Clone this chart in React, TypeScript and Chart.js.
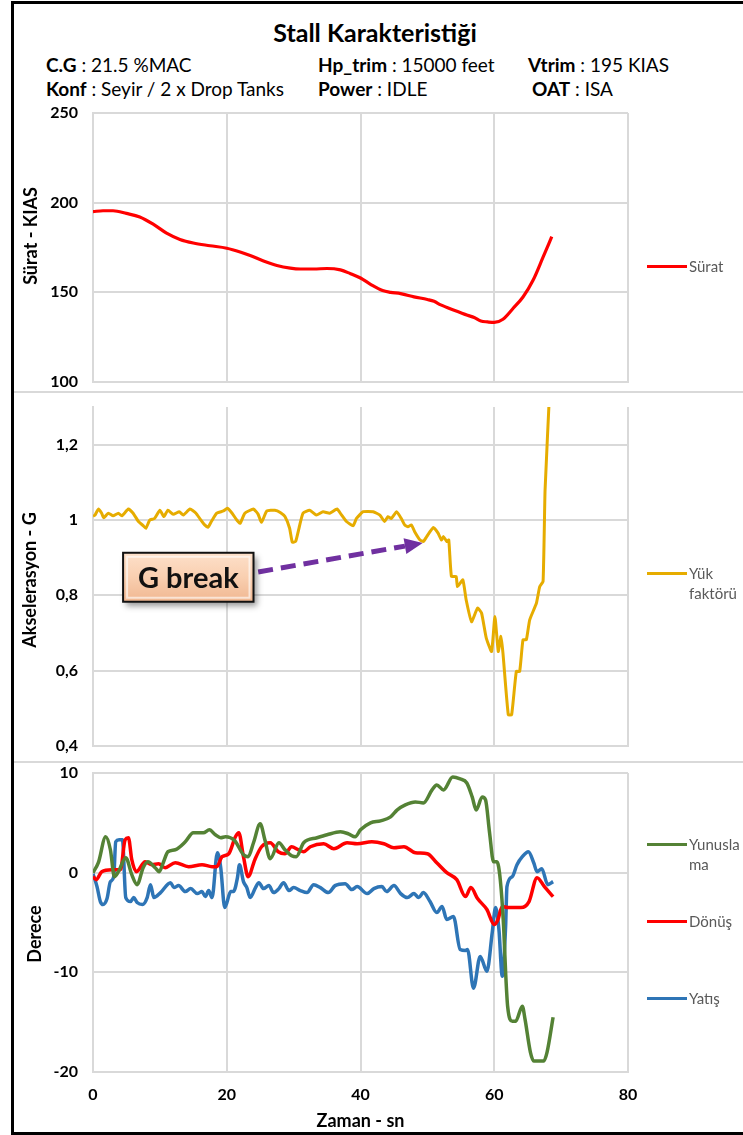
import React, { useEffect, useRef } from 'react';
import { Chart, registerables } from 'chart.js';

Chart.register(...registerables);

// ---------------- DATA ----------------
const speedT = [0, 1.5, 3, 5, 7, 9, 11, 13, 15, 17.5, 20, 22, 23.5, 25.5, 27.5, 29.5, 31, 33, 35, 37, 38.5, 40, 41.5, 43.3, 44.5, 46, 48, 50, 51, 52, 54, 56, 57, 58, 59, 60, 61.3, 62.8, 64.3, 65.8, 67.3, 68.6];
const speedV = [195, 195.5, 195.5, 194, 192, 188, 183, 179.5, 177.5, 176, 174.6, 172.5, 170.5, 167.5, 165, 163.5, 163, 163, 163.3, 162.5, 160.4, 158, 154.5, 151, 150, 149.3, 147.5, 146, 145, 143, 140, 137.2, 136, 134, 133.5, 133.2, 135, 141, 147.4, 156.7, 169.6, 181];

const loadT = [0, 0.3, 0.8, 1.3, 1.6, 2.3, 3.0, 3.8, 4.3, 5.3, 6.0, 6.8, 7.5, 7.9, 8.5, 9.2, 10.0, 10.6, 11.2, 12.0, 12.9, 13.5, 14.5, 15.4, 16.0, 16.7, 17.2, 17.7, 18.5, 19.5, 20.1, 20.8, 21.5, 22.0, 22.7, 24.0, 24.7, 25.2, 26.0, 27.2, 28.0, 28.7, 29.4, 29.8, 30.3, 30.8, 31.4, 32.4, 33.4, 34.4, 35.4, 36.5, 37.1, 37.9, 38.9, 39.4, 40.4, 41.9, 42.9, 43.6, 44.1, 44.6, 45.4, 46.1, 46.6, 47.1, 47.6, 48.1, 48.9, 49.4, 49.9, 50.9, 51.6, 52.1, 52.4, 52.9, 53.2, 53.6, 54.3, 54.5, 55.3, 55.8, 56.6, 57.5, 58.1, 58.8, 59.6, 60.1, 60.6, 61.0, 61.3, 62.1, 62.6, 63.3, 63.8, 64.3, 64.8, 65.3, 66.3, 66.8, 67.3, 67.6, 68.3];
const loadV = [1.01, 1.013, 1.029, 1.018, 1.006, 1.018, 1.011, 1.018, 1.011, 1.029, 1.018, 0.996, 0.985, 0.978, 1.0, 1.004, 1.026, 1.009, 1.026, 1.015, 1.022, 1.013, 1.029, 1.018, 1.003, 0.987, 0.981, 0.996, 1.018, 1.024, 1.031, 1.018, 1.0, 0.991, 1.018, 1.029, 1.015, 0.994, 1.024, 1.026, 1.02, 1.009, 0.978, 0.941, 0.943, 0.978, 1.018, 1.026, 1.013, 1.022, 1.018, 1.029, 1.015, 0.996, 0.985, 1.004, 1.022, 1.022, 1.013, 0.996, 1.009, 1.004, 1.022, 1.004, 0.987, 0.982, 0.987, 0.969, 0.947, 0.943, 0.956, 0.98, 0.965, 0.947, 0.956, 0.943, 0.947, 0.85, 0.85, 0.823, 0.841, 0.788, 0.73, 0.766, 0.753, 0.687, 0.651, 0.744, 0.651, 0.691, 0.647, 0.483, 0.483, 0.598, 0.598, 0.682, 0.682, 0.735, 0.779, 0.823, 0.837, 1.08, 1.35];

const pitchT = [0, 0.8, 1.9, 2.6, 3.2, 3.8, 4.9, 5.8, 6.6, 7.5, 8.2, 9.3, 9.9, 10.5, 11.2, 12.3, 13.8, 15.0, 16.5, 17.4, 18.3, 19.1, 19.8, 21.2, 22.5, 23.2, 24.0, 25.0, 25.7, 26.5, 27.8, 28.7, 29.7, 30.4, 31.5, 33.5, 35.0, 37.0, 38.2, 39.2, 40.0, 41.5, 43.0, 44.5, 45.5, 46.7, 48.2, 49.4, 50.7, 51.4, 52.4, 53.8, 54.9, 55.9, 56.7, 57.3, 58.2, 58.7, 59.3, 59.9, 60.4, 60.9, 61.4, 61.7, 62.0, 62.7, 63.2, 64.2, 64.6, 65.4, 65.9, 67.4, 67.9, 68.8];
const pitchV = [0, 1.0, 3.6, 2.3, -0.4, 0.1, 1.5, -0.2, -1.2, 0.5, 1.1, 0.5, 0.1, 1.0, 2.1, 2.3, 3.1, 4.0, 4.0, 4.3, 3.8, 3.5, 3.6, 3.2, 1.8, 1.6, 3.0, 4.9, 3.3, 1.4, 3.0, 2.3, 1.7, 1.6, 3.0, 3.5, 3.8, 4.1, 3.9, 3.6, 4.3, 5.0, 5.2, 5.6, 6.3, 6.8, 7.1, 7.0, 8.3, 8.8, 8.3, 9.6, 9.4, 9.0, 7.6, 6.3, 7.6, 7.3, 4.0, 1.1, 1.1, -0.7, -5.4, -10, -13.4, -14.9, -14.9, -13.4, -14.7, -18.0, -18.9, -18.9, -18.0, -14.5];

const yawT = [0, 0.5, 1.3, 2.8, 4.1, 4.8, 5.3, 5.8, 6.5, 7.8, 8.8, 9.8, 10.8, 12.3, 14.3, 16.3, 17.8, 18.5, 19.3, 20.3, 21.3, 21.8, 22.5, 23.2, 24.2, 25.2, 26.5, 27.7, 28.7, 29.7, 30.7, 31.5, 32.5, 34.5, 36.0, 38.0, 39.5, 41.7, 43.5, 45.0, 46.5, 48.2, 50.0, 51.4, 52.9, 54.4, 55.7, 56.5, 57.5, 58.9, 60.0, 60.5, 61.2, 62.0, 64.0, 65.2, 66.4, 67.5, 68.8];
const yawV = [-0.4, -0.7, 0.1, 0.3, 0.3, 3.3, 3.5, 1.3, 0.1, 1.1, 0.8, 0.9, 0.5, 1.0, 0.6, 0.8, 0.6, 0.6, 1.6, 1.9, 3.6, 4.0, 1.6, -0.4, 1.3, 2.6, 3.0, 2.1, 1.9, 2.6, 2.3, 2.1, 2.6, 2.9, 2.4, 3.0, 2.9, 3.1, 2.9, 2.5, 2.6, 2.0, 1.9, 1.0, 0.0, -0.7, -2.4, -1.5, -2.6, -3.7, -5.2, -4.8, -3.4, -3.5, -3.5, -2.9, -0.5, -1.4, -2.4];

const rollT = [0, 0.6, 1.1, 1.5, 2.1, 2.6, 3.1, 3.4, 3.9, 4.4, 4.9, 5.6, 6.1, 6.6, 7.4, 8.1, 8.6, 9.1, 10.1, 11.6, 12.1, 12.8, 13.8, 14.6, 15.6, 16.3, 16.8, 17.3, 17.8, 18.6, 19.1, 19.7, 20.6, 21.0, 21.6, 21.9, 22.5, 23.0, 23.5, 24.3, 24.8, 25.5, 26.3, 27.0, 27.8, 28.5, 29.3, 30.0, 31.0, 32.0, 33.0, 34.0, 35.2, 36.2, 37.7, 38.7, 39.5, 41.0, 42.0, 43.2, 43.9, 45.0, 46.0, 47.0, 48.0, 48.7, 49.4, 50.4, 51.4, 52.2, 52.9, 53.9, 54.9, 55.7, 56.0, 56.9, 57.9, 58.9, 59.7, 60.2, 60.7, 61.2, 61.7, 61.9, 62.7, 63.4, 64.2, 65.1, 65.9, 66.4, 67.1, 68.0, 68.8];
const rollV = [-0.1, -1.4, -2.9, -3.2, -2.6, -0.9, -0.4, 3.1, 3.3, 3.3, -2.5, -2.9, -2.5, -3.0, -3.2, -2.5, -1.2, -2.5, -2.0, -1.0, -1.5, -1.3, -1.9, -1.6, -2.1, -1.9, -2.4, -1.8, -2.5, 2.0, 0.5, -3.5, -1.9, -1.9, -0.5, 0.8, -0.9, -1.5, -2.5, -1.5, -1.0, -1.6, -1.3, -2.0, -1.6, -1.0, -1.8, -1.5, -1.8, -2.0, -1.2, -1.5, -2.0, -1.3, -1.1, -1.7, -1.4, -2.1, -1.6, -1.4, -1.9, -1.3, -2.1, -2.5, -2.1, -2.5, -2.0, -2.9, -4.0, -3.4, -4.7, -4.4, -7.7, -7.8, -7.7, -11.6, -8.4, -9.9, -6.0, -3.5, -5.7, -10.4, -5.4, -1.4, -0.4, 0.8, 1.6, 2.1, 1.0, 0.1, 0.4, -1.2, -0.9];

// axis ranges / tick steps
const xRange = [0, 80];
const xStep = 20;
const speedRange = [100, 250];
const speedStep = 50;
const loadRange = [0.4, 1.3];
const loadStep = 0.2;
const angleRange = [-20, 10];
const angleStep = 10;

// annotation (data coordinates)
const gBreakBoxT = [4.5, 24.0];
const gBreakBoxG = [0.913, 0.783];
const gBreakArrowFrom = [24.7, 0.862];
const gBreakArrowTo = [49.3, 0.939];

// texts
const chartTitle = 'Stall Karakteristiği';
const infoRow1 = [['C.G', ' : 21.5 %MAC'], ['Hp_trim', ' : 15000 feet'], ['Vtrim', ' : 195 KIAS']];
const infoRow2 = [['Konf', ' : Seyir / 2 x Drop Tanks'], ['Power', ' : IDLE'], ['OAT', ' : ISA']];

// ---------------- STYLE ----------------
const FONT = 'Lato, "Open Sans", sans-serif';
const GRID = '#d9d9d9';
const W = 743;
const PLOT_LEFT = 93;
const PLOT_RIGHT_PAD = 115;

const pts = (t: number[], v: number[]) => t.map((x, i) => ({ x, y: v[i] }));
const fmt = (v: number) => String(Math.round(v * 10) / 10).replace('.', ',');

function yTitle(text: string, cx: number, cy: number) {
  return {
    id: 'ytitle',
    afterDraw(chart: any) {
      const ctx = chart.ctx;
      ctx.save();
      ctx.translate(cx, cy);
      ctx.rotate(-Math.PI / 2);
      ctx.font = `bold 18px ${FONT}`;
      ctx.fillStyle = '#000';
      ctx.textAlign = 'center';
      ctx.textBaseline = 'middle';
      ctx.fillText(text, 0, 0);
      ctx.restore();
    },
  };
}

const gBreakPlugin = {
  id: 'gbreak',
  afterDatasetsDraw(chart: any) {
    const { ctx, scales } = chart;
    const x = scales.x, y = scales.y;
    const ax0 = x.getPixelForValue(gBreakArrowFrom[0]);
    const ay0 = y.getPixelForValue(gBreakArrowFrom[1]);
    const ax1 = x.getPixelForValue(gBreakArrowTo[0]);
    const ay1 = y.getPixelForValue(gBreakArrowTo[1]);
    const ang = Math.atan2(ay1 - ay0, ax1 - ax0);
    const head = 18, hw = 8;
    const bx = ax1 - head * Math.cos(ang), by = ay1 - head * Math.sin(ang);
    ctx.save();
    ctx.strokeStyle = '#7030A0';
    ctx.fillStyle = '#7030A0';
    ctx.lineWidth = 5;
    ctx.setLineDash([15, 8]);
    ctx.beginPath();
    ctx.moveTo(ax0, ay0);
    ctx.lineTo(bx, by);
    ctx.stroke();
    ctx.setLineDash([]);
    ctx.beginPath();
    ctx.moveTo(ax1, ay1);
    ctx.lineTo(bx + hw * Math.sin(ang), by - hw * Math.cos(ang));
    ctx.lineTo(bx - hw * Math.sin(ang), by + hw * Math.cos(ang));
    ctx.closePath();
    ctx.fill();
    ctx.restore();

    const x0 = x.getPixelForValue(gBreakBoxT[0]);
    const x1 = x.getPixelForValue(gBreakBoxT[1]);
    const y0 = y.getPixelForValue(gBreakBoxG[0]);
    const y1 = y.getPixelForValue(gBreakBoxG[1]);
    ctx.save();
    ctx.shadowColor = 'rgba(0,0,0,0.4)';
    ctx.shadowBlur = 6;
    ctx.shadowOffsetX = 3;
    ctx.shadowOffsetY = 4;
    const grad = ctx.createLinearGradient(0, y0, 0, y1);
    grad.addColorStop(0, '#fde0ca');
    grad.addColorStop(0.5, '#f9cfb0');
    grad.addColorStop(1, '#f0b791');
    ctx.fillStyle = grad;
    ctx.fillRect(x0, y0, x1 - x0, y1 - y0);
    ctx.restore();
    ctx.save();
    ctx.strokeStyle = 'rgba(255,255,255,0.6)';
    ctx.lineWidth = 2;
    ctx.strokeRect(x0 + 4, y0 + 4, x1 - x0 - 8, y1 - y0 - 8);
    ctx.strokeStyle = '#111';
    ctx.lineWidth = 2;
    ctx.strokeRect(x0, y0, x1 - x0, y1 - y0);
    ctx.fillStyle = '#111';
    ctx.font = `bold 29px ${FONT}`;
    ctx.textAlign = 'center';
    ctx.textBaseline = 'middle';
    ctx.fillText('G break', (x0 + x1) / 2, (y0 + y1) / 2 + 1);
    ctx.restore();
  },
};

function makeOptions(p: {
  yMin: number; yMax: number; yStep: number; padTop: number; padBottom: number; xH: number; showX: boolean;
  filter?: boolean; fmtY?: (v: number) => string; lineW?: number;
}) {
  return {
    responsive: false,
    animation: false as const,
    events: [],
    layout: { padding: { left: 0, right: PLOT_RIGHT_PAD, top: p.padTop, bottom: p.padBottom } },
    plugins: { legend: { display: false }, tooltip: { enabled: false }, title: { display: false } },
    elements: { point: { radius: 0 }, line: { borderWidth: p.lineW ?? 3, cubicInterpolationMode: 'monotone' as const } },
    scales: {
      x: {
        type: 'linear' as const,
        min: xRange[0],
        max: xRange[1],
        afterFit: (s: any) => { s.height = p.xH; },
        ticks: {
          display: p.showX,
          stepSize: xStep,
          padding: 13,
          color: '#000',
          font: { family: FONT, size: 16, weight: 'bold' as const },
        },
        grid: { color: GRID, lineWidth: 2, drawTicks: false },
        border: { color: GRID, width: 2 },
        title: p.showX
          ? { display: true, text: 'Zaman - sn', color: '#000', padding: 0, font: { family: FONT, size: 18, weight: 'bold' as const } }
          : { display: false },
      },
      y: {
        min: p.yMin,
        max: p.yMax,
        afterFit: (s: any) => { s.width = PLOT_LEFT; },
        afterBuildTicks: p.filter
          ? (s: any) => { s.ticks = s.ticks.filter((t: any) => Math.abs(t.value * 5 - Math.round(t.value * 5)) < 1e-6); }
          : undefined,
        ticks: {
          stepSize: p.yStep,
          padding: 0,
          color: '#000',
          font: { family: FONT, size: 16, weight: 'bold' as const },
          callback: p.fmtY ? (v: any) => p.fmtY!(Number(v)) : (v: any) => String(v),
        },
        grid: { color: GRID, lineWidth: 2, drawTicks: true, tickLength: 15, tickColor: 'rgba(0,0,0,0)' },
        border: { color: GRID, width: 2 },
      },
    },
  };
}

function ChartCanvas({ top, height, config }: { top: number; height: number; config: () => any }) {
  const ref = useRef<HTMLCanvasElement | null>(null);
  useEffect(() => {
    if (!ref.current) return;
    const chart = new Chart(ref.current, config());
    return () => chart.destroy();
  }, []);
  return (
    <canvas
      ref={ref}
      width={W}
      height={height}
      style={{ position: 'absolute', left: 0, top, width: W, height, display: 'block' }}
    />
  );
}

function LegendItem({ color, y, lines }: { color: string; y: number; lines: string[] }) {
  return (
    <>
      <div style={{ position: 'absolute', left: 647, top: y - 1.5, width: 40, height: 3, background: color }} />
      <div
        style={{
          position: 'absolute', left: 689, top: y - 10, fontFamily: FONT, fontSize: 15, lineHeight: '20px', color: '#595959', whiteSpace: 'nowrap',
        }}
      >
        {lines.map((l, i) => (<div key={i}>{l}</div>))}
      </div>
    </>
  );
}

function InfoRow({ items, y, xs }: { items: string[][]; y: number; xs: number[] }) {
  return (
    <>
      {items.map((it, i) => (
        <div
          key={i}
          style={{ position: 'absolute', left: xs[i], top: y - 12, fontFamily: FONT, fontSize: 19, lineHeight: '24px', color: '#000', whiteSpace: 'nowrap' }}
        >
          <b>{it[0]}</b>{it[1]}
        </div>
      ))}
    </>
  );
}

export default function App() {
  const speedConfig = () => ({
    type: 'line',
    data: { datasets: [{ label: 'Sürat', data: pts(speedT, speedV), borderColor: '#FF0000' }] },
    options: makeOptions({ yMin: speedRange[0], yMax: speedRange[1], yStep: speedStep, padTop: 13, padBottom: 9, xH: 1, showX: false, lineW: 3.2 }),
    plugins: [yTitle('Sürat - KIAS', 31, 136)],
  });
  const loadConfig = () => ({
    type: 'line',
    data: { datasets: [{ label: 'Yük faktörü', data: pts(loadT, loadV), borderColor: '#E6AC00', cubicInterpolationMode: 'default', tension: 0.15 }] },
    options: makeOptions({ yMin: loadRange[0], yMax: loadRange[1], yStep: loadStep, padTop: 14, padBottom: 15, xH: 1, showX: false, filter: true, fmtY: fmt }),
    plugins: [yTitle('Akselerasyon - G', 30, 187), gBreakPlugin],
  });
  const angleConfig = () => ({
    type: 'line',
    data: {
      datasets: [
        { label: 'Yunuslama', data: pts(pitchT, pitchV), borderColor: '#548235' },
        { label: 'Dönüş', data: pts(yawT, yawV), borderColor: '#FF0000' },
        { label: 'Yatış', data: pts(rollT, rollV), borderColor: '#2E75B6' },
      ],
    },
    options: makeOptions({ yMin: angleRange[0], yMax: angleRange[1], yStep: angleStep, padTop: 10, padBottom: 1, xH: 60, showX: true, lineW: 3.5 }),
    plugins: [yTitle('Derece', 35, 171)],
  });

  return (
    <div style={{ position: 'fixed', left: 0, top: 0, width: W, height: 1135, overflow: 'hidden', background: '#fff' }}>
      <div style={{ position: 'absolute', left: 11, top: 1, width: 780, height: 1134, border: '3px solid #000', boxSizing: 'border-box' }} />
      <div
        style={{ position: 'absolute', left: 0, top: 17, width: 750, textAlign: 'center', fontFamily: FONT, fontWeight: 'bold', fontSize: 25, lineHeight: '30px', color: '#000' }}
      >
        {chartTitle}
      </div>
      <InfoRow items={infoRow1} y={65} xs={[46, 318, 528]} />
      <InfoRow items={infoRow2} y={89} xs={[46, 318, 532]} />

      <ChartCanvas top={100} height={292} config={speedConfig} />
      <div style={{ position: 'absolute', left: 14, top: 391, width: 740, height: 2, background: GRID }} />
      <ChartCanvas top={393} height={369} config={loadConfig} />
      <div style={{ position: 'absolute', left: 14, top: 761, width: 740, height: 2, background: GRID }} />
      <ChartCanvas top={763} height={370} config={angleConfig} />

      <LegendItem color="#FF0000" y={266} lines={['Sürat']} />
      <LegendItem color="#E6AC00" y={573} lines={['Yük', 'faktörü']} />
      <LegendItem color="#548235" y={844} lines={['Yunusla', 'ma']} />
      <LegendItem color="#FF0000" y={921} lines={['Dönüş']} />
      <LegendItem color="#2E75B6" y={998} lines={['Yatış']} />
    </div>
  );
}
